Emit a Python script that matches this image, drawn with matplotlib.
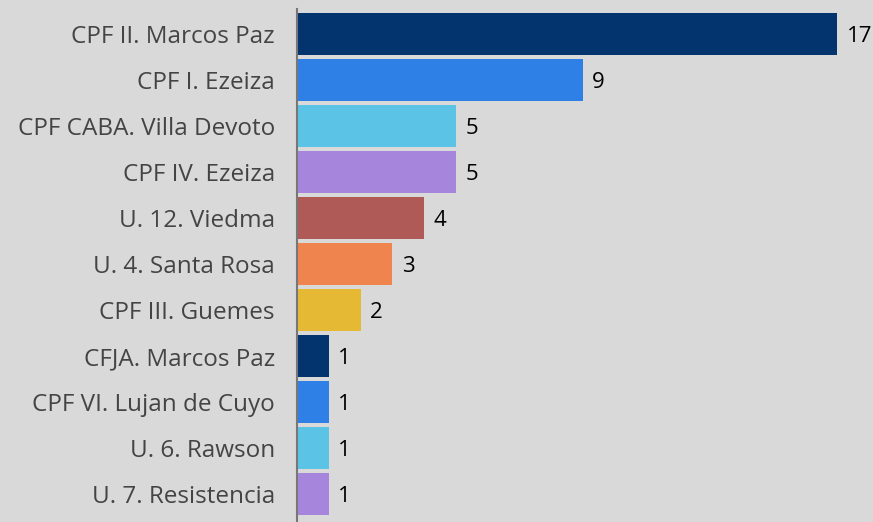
import matplotlib.pyplot as plt

units = [
    "CPF II. Marcos Paz",
    "CPF I. Ezeiza",
    "CPF CABA. Villa Devoto",
    "CPF IV. Ezeiza",
    "U. 12. Viedma",
    "U. 4. Santa Rosa",
    "CPF III. Guemes",
    "CFJA. Marcos Paz",
    "CPF VI. Lujan de Cuyo",
    "U. 6. Rawson",
    "U. 7. Resistencia",
]
counts = [17, 9, 5, 5, 4, 3, 2, 1, 1, 1, 1]

palette = ["#03346E", "#2E80E6", "#5BC4E6", "#A685DC",
           "#B05A58", "#F0844F", "#E6B935"]
colors = [palette[i % len(palette)] for i in range(len(units))]

bg = "#D9D9D9"
plt.rcParams["font.family"] = ["Open Sans", "DejaVu Sans"]

fig = plt.figure(figsize=(8.73, 5.22), dpi=100, facecolor=bg)
ax = fig.add_axes([297 / 873, 0, 576 / 873, 513 / 522], facecolor=bg)

pos = list(range(len(units)))
ax.barh(pos, counts, height=0.913, color=colors)

for y, v in zip(pos, counts):
    ax.text(v + 0.3, y, str(v), va="center_baseline", ha="left", fontsize=16, color="#000000")

ax.set_xlim(0, 576 / 31.76)
ax.set_ylim(10.609, -0.543)
ax.set_yticks(pos)
ax.set_yticklabels(units, fontsize=17.5, color="#444444")
ax.tick_params(axis="y", length=0, pad=16)
ax.set_xticks([])

for s in ["top", "right", "bottom"]:
    ax.spines[s].set_visible(False)
ax.spines["left"].set_color("#777777")
ax.spines["left"].set_linewidth(1.5)

fig.savefig("out.png", dpi=100, facecolor=bg)
